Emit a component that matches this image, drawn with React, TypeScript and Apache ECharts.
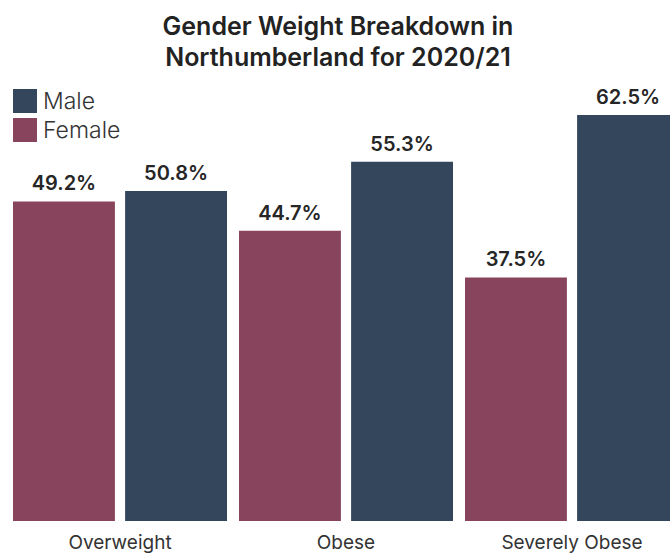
import React, { useEffect, useRef } from "react";
import * as echarts from "echarts";

const categories = ["Overweight", "Obese", "Severely Obese"];
const femaleValues = [49.2, 44.7, 37.5];
const maleValues = [50.8, 55.3, 62.5];
const titleText = "Gender Weight Breakdown in\nNorthumberland for 2020/21";

export default function App() {
  const ref = useRef<HTMLDivElement>(null);
  useEffect(() => {
    if (!ref.current) return;
    const chart = echarts.init(ref.current, undefined, { renderer: "svg" });
    const font = "Inter, 'Open Sans', sans-serif";
    const labelCfg = {
      show: true,
      position: "top" as const,
      distance: 8,
      formatter: (p: any) => p.value.toFixed(1) + "%",
      fontSize: 20,
      fontWeight: 600,
      fontFamily: font,
      color: "#262626",
    };
    chart.setOption({
      animation: false,
      title: {
        text: titleText,
        left: 333,
        textAlign: "center",
        top: 5,
        textStyle: {
          fontSize: 25,
          fontWeight: 600,
          lineHeight: 31,
          color: "#222",
          fontFamily: font,
        },
      },
      legend: {
        data: ["Male", "Female"],
        orient: "vertical",
        left: 13,
        top: 89,
        padding: 0,
        itemWidth: 24,
        itemHeight: 24,
        itemGap: 5,
        icon: "rect",
        textStyle: {
          fontSize: 23,
          lineHeight: 24,
          height: 24,
          color: "#333",
          fontFamily: font,
          fontWeight: 300,
          padding: [0, 0, 0, 1],
        },
      },
      grid: { left: 7, right: 0, top: 115, bottom: 35 },
      xAxis: {
        type: "category",
        data: categories,
        axisLine: { show: false },
        axisTick: { show: false },
        axisLabel: { fontSize: 19, color: "#333", margin: 12, fontFamily: font },
      },
      yAxis: { type: "value", min: 0, max: 62.5, show: false, splitLine: { show: false } },
      series: [
        {
          name: "Female",
          type: "bar",
          data: femaleValues,
          itemStyle: { color: "#88445D" },
          barGap: "10%",
          barCategoryGap: "5.3%",
          label: labelCfg,
        },
        {
          name: "Male",
          type: "bar",
          data: maleValues,
          itemStyle: { color: "#34465C" },
          barGap: "10%",
          barCategoryGap: "5.3%",
          label: labelCfg,
        },
      ],
    });
    return () => chart.dispose();
  }, []);
  return (
    <div style={{ position: "absolute", left: 0, top: 0, width: 670, height: 556, overflow: "hidden", background: "#fff" }}>
      <div ref={ref} style={{ width: 685, height: 556 }} />
    </div>
  );
}
